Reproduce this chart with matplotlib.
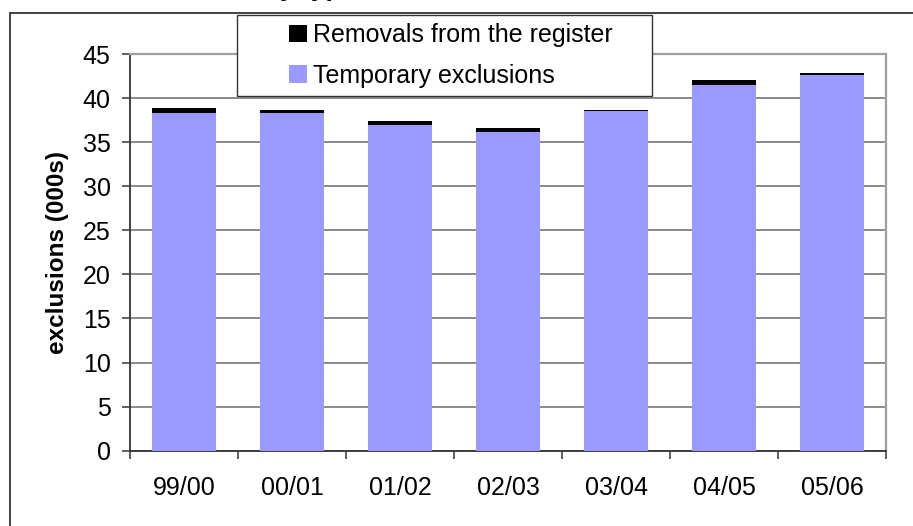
import matplotlib
matplotlib.use("Agg")
import matplotlib.pyplot as plt
from matplotlib.patches import Rectangle
import numpy as np

plt.rcParams['font.family'] = ['Liberation Sans', 'DejaVu Sans']

# data (thousands)
years = ['99/00', '00/01', '01/02', '02/03', '03/04', '04/05', '05/06']
temporary = [38.3, 38.3, 36.9, 36.1, 38.5, 41.5, 42.6]
removals = [0.55, 0.35, 0.55, 0.55, 0.2, 0.55, 0.25]
yticks = list(range(0, 50, 5))

W, H = 913, 526
fig = plt.figure(figsize=(W / 100, H / 100), dpi=100)
fig.patch.set_facecolor('white')


def px(x0, y0, x1, y1):
    """figure-fraction rect from pixel box (top-left origin)"""
    return [x0 / W, 1 - y1 / H, (x1 - x0) / W, (y1 - y0) / H]


ax = fig.add_axes(px(130, 54, 886, 450.7))

x = np.arange(len(years))
ax.bar(x, temporary, width=0.6, color='#9999ff', zorder=3,
       label='Temporary exclusions')
ax.bar(x, removals, width=0.6, bottom=temporary, color='black', zorder=3,
       label='Removals from the register')

ax.set_xlim(-0.5, len(years) - 0.5)
ax.set_ylim(0, 45)
ax.set_yticks(yticks)
ax.yaxis.grid(True, color='#777777', lw=1.2, zorder=0)

ax.set_xticks(x)
ax.set_xticklabels(years, fontsize=18)
ax.set_xticks(np.arange(-0.5, len(years)), minor=True)
ax.tick_params(axis='x', which='major', length=0, pad=18)
ax.tick_params(axis='x', which='minor', length=6, width=1.1, color='#333333')
ax.tick_params(axis='y', length=6, width=1.1, color='#333333', pad=8,
               labelsize=18)

for side in ('left', 'bottom'):
    ax.spines[side].set_color('#333333')
    ax.spines[side].set_linewidth(1.3)
for side in ('top', 'right'):
    ax.spines[side].set_color('#a0a0a0')
    ax.spines[side].set_linewidth(1.6)

ax.set_ylabel('exclusions (000s)', fontsize=17.5, fontweight='bold', labelpad=10)

# outer chart frame (cropped at right and bottom)
fig.patches.append(Rectangle((10 / W, -0.2), 1.2, 1 - 13 / H + 0.2,
                             transform=fig.transFigure, fill=False,
                             edgecolor='#333333', lw=1.3))

# title, mostly cut off by the top edge
fig.text(117 / W, 1 + 4 / H, 'Exclusions by type, 1999/00 to 2005/06',
         fontsize=19, fontweight='bold', va='baseline', ha='left')

# legend box
fig.patches.append(Rectangle(px(237, 15, 652, 96)[:2],
                             (652 - 237) / W, (96 - 15) / H,
                             transform=fig.transFigure, facecolor='white',
                             edgecolor='#333333', lw=1.0, zorder=5))
handles, labels = ax.get_legend_handles_labels()
leg = fig.legend(handles[::-1], labels[::-1], loc='upper left',
                 bbox_to_anchor=(289 / W, 1 - 23 / H), frameon=False,
                 fontsize=18, handlelength=0.7, handleheight=0.7,
                 handletextpad=0.25, labelspacing=0.66, borderpad=0,
                 borderaxespad=0)
leg.set_zorder(6)

fig.savefig('out.png', dpi=100)
